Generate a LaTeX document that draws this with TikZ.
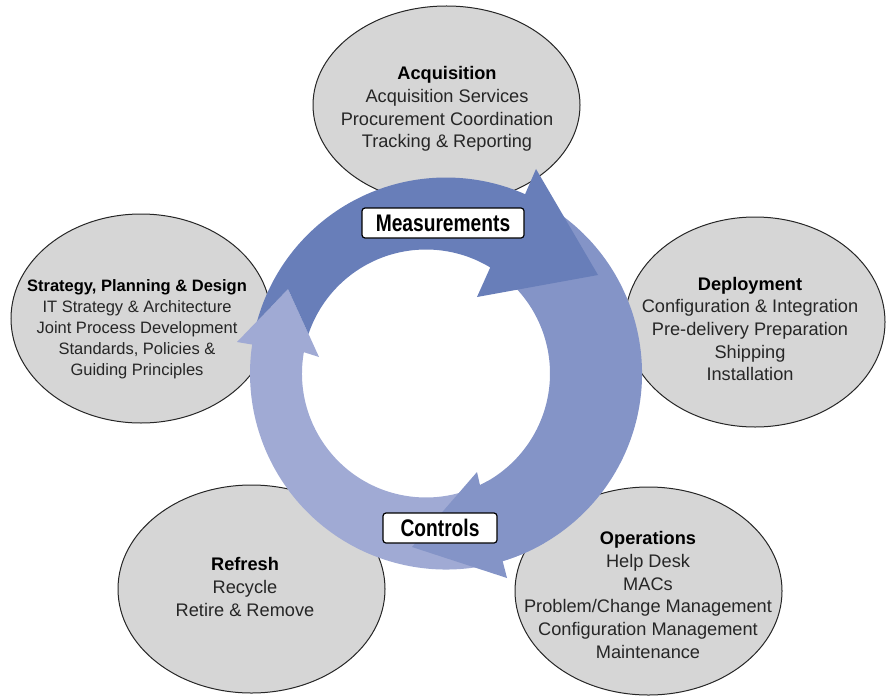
\documentclass[tikz,border=0pt]{standalone}
\usepackage{fontspec}
\setmainfont{Liberation Sans}
\newfontfamily\condfont[FakeStretch=0.8]{Liberation Sans}
\usetikzlibrary{shapes.geometric,calc}

\definecolor{phaseGray}{RGB}{214,214,214}
\definecolor{arrowDark}{RGB}{104,126,185}
\definecolor{arrowMid}{RGB}{132,148,199}
\definecolor{arrowLight}{RGB}{160,170,212}

\begin{document}
\begin{tikzpicture}[
    x=0.5pt, y=0.5pt,
    phase/.style={ellipse, draw=black!85, fill=phaseGray, line width=0.5pt, inner sep=0pt},
    phaseText/.style={align=center, text=black!85, font=\fontsize{9.1}{11.35}\selectfont},
    ringLabel/.style={draw=black, fill=white, rounded corners=1.5pt, line width=0.6pt,
        minimum height=15pt, inner sep=0pt, font=\condfont\bfseries\fontsize{12}{14}\selectfont}
]
\useasboundingbox (0,0) rectangle (892,-695);

% -- the five phases --
\node[phase, minimum width=133.5pt, minimum height=99pt] (acqEllipse) at (446.5,-105) {};
\node[phaseText] (acqText) at (447,-109) {\textcolor{black}{\bfseries Acquisition}\\Acquisition Services\\Procurement Coordination\\Tracking \& Reporting};

\node[phase, minimum width=130pt, minimum height=105pt] (depEllipse) at (755,-322) {};
\node[phaseText] (depText) at (750,-329) {\textcolor{black}{\bfseries Deployment}\\Configuration \& Integration\\Pre-delivery Preparation\\Shipping\\Installation};

\node[phase, minimum width=133.5pt, minimum height=104pt] (opsEllipse) at (648.5,-591) {};
\node[phaseText] (opsText) at (648,-595) {\textcolor{black}{\bfseries Operations}\\Help Desk\\MACs\\Problem/Change Management\\Configuration Management\\Maintenance};

\node[phase, minimum width=133.5pt, minimum height=104pt] (refEllipse) at (251.5,-589) {};
\node[phaseText] (refText) at (245,-587) {\textcolor{black}{\bfseries Refresh}\\Recycle\\Retire \& Remove};

\node[phase, minimum width=130pt, minimum height=104.5pt] (strEllipse) at (141,-318.5) {};
\node[phaseText, font=\fontsize{8.25}{10.5}\selectfont] (strText) at (137,-329) {\textcolor{black}{\bfseries Strategy, Planning \& Design}\\IT Strategy \& Architecture\\Joint Process Development\\Standards, Policies \&\\Guiding Principles};

% -- ring centres --
\coordinate (outerC) at (446,-373.5);
\coordinate (innerC) at (426,-373.5);

% -- light arrow, up the left side --
\coordinate (lightOuterBarb) at (237,-342);
\coordinate (lightTip) at (288,-289);
\coordinate (lightInnerBarb) at (319,-357);
\fill[arrowLight] ($(outerC)+(-60:196)$) arc[start angle=-60, end angle=-188.5, radius=196]
    -- (lightOuterBarb) -- (lightTip) -- (lightInnerBarb)
    -- ($(innerC)+(170.1:124)$) arc[start angle=170.1, end angle=300, radius=124] -- cycle;

% -- mid arrow, down the right side --
\coordinate (midOuterBarb) at (507,-578);
\coordinate (midTip) at (412,-547);
\coordinate (midInnerBarb) at (477,-472);
\fill[arrowMid] ($(outerC)+(60:196)$) arc[start angle=60, end angle=-73.2, radius=196]
    -- (midOuterBarb) -- (midTip) -- (midInnerBarb)
    -- ($(innerC)+(-64.2:124)$) arc[start angle=-64.2, end angle=50, radius=124] -- cycle;

% -- dark arrow, over the top --
\coordinate (darkOuterBarb) at (536,-169);
\coordinate (darkTip) at (598,-275);
\coordinate (darkInnerBarb) at (477,-297);
\fill[arrowDark] ($(outerC)+(164.5:196)$) arc[start angle=164.5, end angle=66.2, radius=196]
    -- (darkOuterBarb) -- (darkTip) -- (darkInnerBarb)
    -- ($(innerC)+(58.8:124)$) arc[start angle=58.8, end angle=161.4, radius=124]
    -- (lightTip) -- cycle;

% -- labels on the ring --
\node[ringLabel, minimum width=81pt] (measurements) at (443,-223) {Measurements};
\node[ringLabel, minimum width=57pt] (controls) at (440,-528) {Controls};

\end{tikzpicture}
\end{document}
